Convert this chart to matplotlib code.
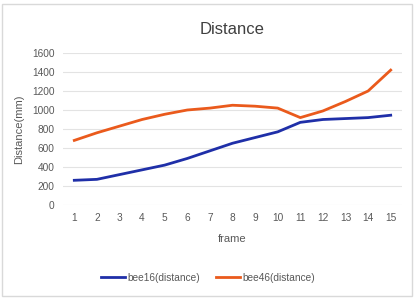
import matplotlib
matplotlib.use("Agg")
import matplotlib.pyplot as plt
from matplotlib.patches import Rectangle

plt.rcParams['font.family'] = ['Liberation Sans', 'DejaVu Sans']

frames = list(range(1, 16))
bee16 = [260, 270, 320, 370, 420, 490, 570, 650, 710, 770, 870, 900, 910, 920, 945]
bee46 = [680, 760, 830, 900, 955, 1000, 1020, 1050, 1040, 1020, 920, 990, 1090, 1200, 1420]

txt = '#595959'
fig = plt.figure(figsize=(4.16, 3.01), dpi=100)
fig.patches.append(Rectangle((0.006, 0.015), 0.985, 0.972, transform=fig.transFigure,
                             fill=False, edgecolor='#D9D9D9', linewidth=1))
ax = fig.add_axes([63 / 416, 1 - 205 / 301, 339 / 416, 152 / 301])

ax.plot(frames, bee16, color='#1F2FA8', linewidth=2.0, label='bee16(distance)')
ax.plot(frames, bee46, color='#EA5A1C', linewidth=2.0, label='bee46(distance)')

ax.set_xlim(0.5, 15.5)
ax.set_ylim(0, 1600)
ax.set_yticks(range(0, 1601, 200))
ax.set_xticks(frames)
ax.grid(axis='y', color='#E3E3E3', linewidth=0.8)
ax.set_axisbelow(True)
for s in ax.spines.values():
    s.set_visible(False)
ax.tick_params(length=0, labelsize=7.3, colors=txt, pad=6)

ax.set_title('Distance', fontsize=12, color='#404040', pad=14)
ax.set_xlabel('frame', fontsize=8, color=txt, labelpad=8)
ax.set_ylabel('Distance(mm)', fontsize=8, color=txt, labelpad=6)

fig.legend(loc='center', bbox_to_anchor=(0.5, 1 - 278 / 301), ncol=2, frameon=False,
           fontsize=7.3, handlelength=2.4, handletextpad=0.2, columnspacing=1.6,
           labelcolor=txt)

fig.savefig('out.png', dpi=100)
